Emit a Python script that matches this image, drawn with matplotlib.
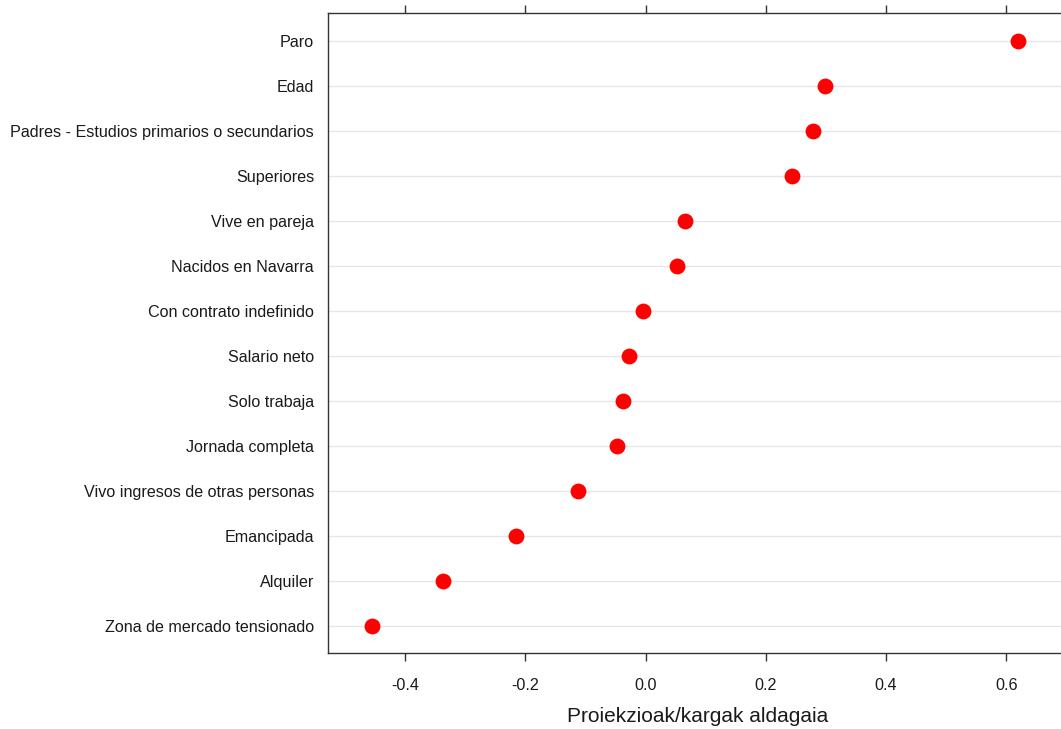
import matplotlib.pyplot as plt

plt.rcParams['font.family'] = ['Liberation Sans', 'DejaVu Sans']

# Variables, bottom to top as drawn
labels = ['Zona de mercado tensionado', 'Alquiler', 'Emancipada',
          'Vivo ingresos de otras personas', 'Jornada completa', 'Solo trabaja',
          'Salario neto', 'Con contrato indefinido', 'Nacidos en Navarra',
          'Vive en pareja', 'Superiores', 'Padres - Estudios primarios o secundarios',
          'Edad', 'Paro']
values = [-0.454, -0.336, -0.216, -0.113, -0.048, -0.037, -0.028, -0.005,
          0.053, 0.065, 0.244, 0.278, 0.299, 0.620]
xticks = [-0.4, -0.2, 0.0, 0.2, 0.4, 0.6]

fig = plt.figure(figsize=(10.61, 7.29), dpi=100)
ax = fig.add_axes([0.3091, 0.1043, 0.6961, 0.8779])

ypos = list(range(len(labels)))
for y in ypos:
    ax.axhline(y, color='#e6e6e6', lw=1, zorder=0)
ax.scatter(values, ypos, s=130, color='#ff0000', zorder=3, linewidths=0)

ax.set_xlim(-0.528, 0.70)
ax.set_ylim(-0.6, len(labels) - 1 + 0.62)
ax.set_yticks(ypos)
ax.set_yticklabels(labels, fontsize=11.6, color='#1a1a1a')
ax.tick_params(axis='y', length=0, pad=10)
ax.set_xticks(xticks)
ax.set_xticklabels([f'{t:.1f}' for t in xticks], fontsize=11.6, color='#1a1a1a')
ax.tick_params(axis='x', top=True, direction='out', length=6, width=1,
               color='#333333', pad=12)
ax.spines['right'].set_visible(False)
for s in ['left', 'top', 'bottom']:
    ax.spines[s].set_color('#333333')
    ax.spines[s].set_linewidth(1)

ax.set_xlabel('Proiekzioak/kargak aldagaia', fontsize=15, color='#1a1a1a', labelpad=10)

fig.savefig('out.png', dpi=100)
